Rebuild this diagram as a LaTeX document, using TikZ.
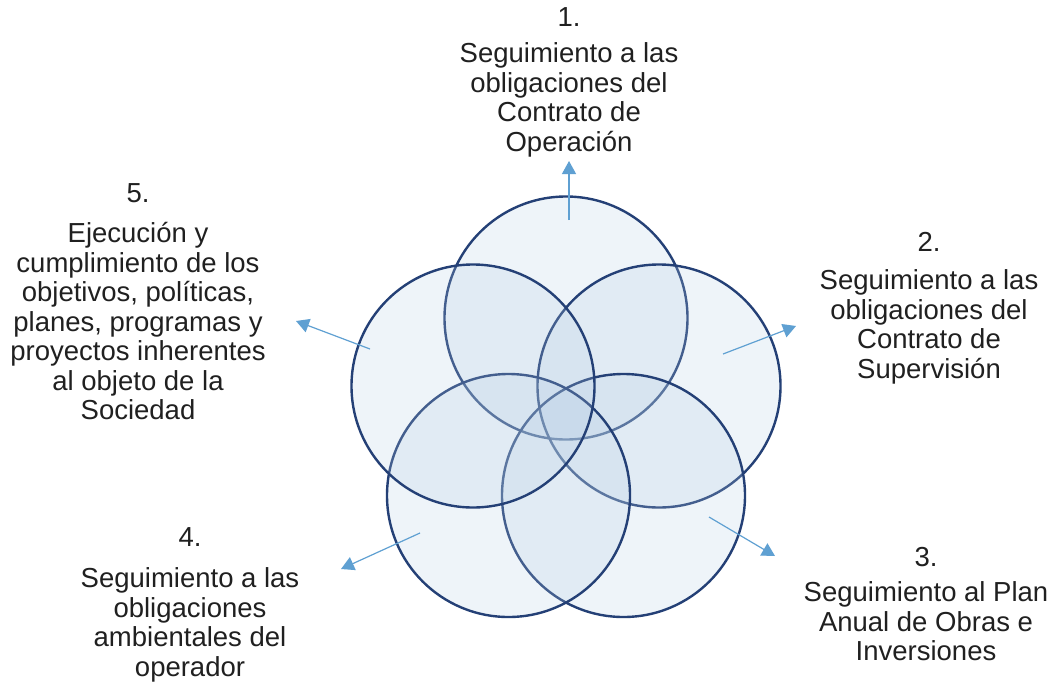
\documentclass[tikz,border=0pt]{standalone}
\usepackage{fontspec}
\setmainfont{Liberation Sans}
\usetikzlibrary{arrows.meta}
\definecolor{ringline}{RGB}{36,64,118}
\definecolor{ringfill}{RGB}{180,205,228}
\definecolor{arrowblue}{RGB}{95,160,210}
\definecolor{labeltext}{RGB}{32,32,32}
\begin{document}
\begin{tikzpicture}[x=1pt,y=-1pt,
  ring/.style={circle,draw=ringline,line width=2.4pt,fill=ringfill,fill opacity=0.22,minimum size=243pt,inner sep=0pt},
  outarrow/.style={draw=arrowblue,line width=1.2pt,-{Triangle[width=14pt,length=13pt]}},
  lbl/.style={align=center,anchor=north,inner sep=0pt,text=labeltext,font=\fontsize{27.5}{29.5}\selectfont}]
\useasboundingbox[fill=white] (0,0) rectangle (1056,681);
% circles (1 lowest, 5 on top)
\node[ring] (c1) at (566,318) {};
\node[ring] (c2) at (659,386) {};
\node[ring] (c3) at (623.5,495.5) {};
\node[ring] (c4) at (508.5,495.5) {};
\node[ring] (c5) at (473,386) {};
% arrows
\coordinate (a1s) at (569,220); \coordinate (a1e) at (569,161);
\coordinate (a2s) at (723,354); \coordinate (a2e) at (796,326);
\coordinate (a3s) at (709,517); \coordinate (a3e) at (775,556);
\coordinate (a4s) at (420,533); \coordinate (a4e) at (341,569);
\coordinate (a5s) at (370,349); \coordinate (a5e) at (296,321);
\draw[outarrow] (a1s) -- (a1e);
\draw[outarrow] (a2s) -- (a2e);
\draw[outarrow] (a3s) -- (a3e);
\draw[outarrow] (a4s) -- (a4e);
\draw[outarrow] (a5s) -- (a5e);
% labels
\node[lbl] (t1) at (569,7.5) {1.\\[6.5pt]Seguimiento a las\\obligaciones del\\Contrato de\\Operación};
\node[lbl] (t2) at (929,232.5) {2.\\[8.5pt]Seguimiento a las\\obligaciones del\\Contrato de\\Supervisión};
\node[lbl] (t3) at (926,547.5) {3.\\[5.5pt]Seguimiento al Plan\\Anual de Obras e\\Inversiones};
\node[lbl] (t4) at (190,527) {4.\\[12pt]Seguimiento a las\\obligaciones\\ambientales del\\operador};
\node[lbl] (t5) at (138,183.5) {5.\\[10.5pt]Ejecución y\\cumplimiento de los\\objetivos, políticas,\\planes, programas y\\proyectos inherentes\\al objeto de la\\Sociedad};
\end{tikzpicture}
\end{document}
